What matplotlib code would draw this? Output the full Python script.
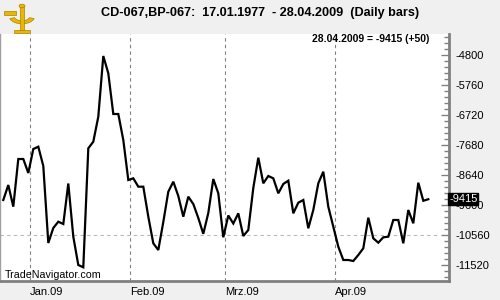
import matplotlib
matplotlib.use("Agg")
import matplotlib.pyplot as plt
from matplotlib.ticker import MultipleLocator, FuncFormatter
from matplotlib.patches import Wedge, Rectangle, Circle
import matplotlib.transforms as mtransforms

plt.rcParams['font.family'] = ['Liberation Sans', 'DejaVu Sans']
plt.rcParams['axes.unicode_minus'] = False

# Daily values, 23.12.2008 .. 28.04.2009 (trading days)
values = [
    -9440, -8960, -9654, -8128, -8128, -8576, -7808, -7734, -8352, -10816,
    -10336, -10134, -10208, -8912, -10614, -11520, -11594, -7786, -7574, -6774,
    -4832, -5386, -6688, -6688, -7520, -8800, -8746, -9014, -9014, -9974,
    -10826, -11040, -10144, -9174, -8854, -9312, -9974, -9334, -9568, -10016,
    -10522, -9856, -8768, -9226, -10634, -9936, -10192, -9866, -10592, -10400,
    -9056, -8086, -8906, -8672, -8746, -9226, -8928, -8822, -9866, -9526,
    -9440, -10346, -9760, -8906, -8534, -9654, -10294, -10934, -11360, -11360,
    -11392, -11200, -10986, -10006, -10666, -10806, -10634, -10614, -10080, -10080,
    -10826, -9760, -10186, -8886, -9465, -9415,
]
month_labels = ["Jan.09", "Feb.09", "Mrz.09", "Apr.09"]
month_start_idx = [6, 26, 45, 67]
last_date = "28.04.2009"
last_change = 50
title = "CD-067,BP-067:  17.01.1977  - 28.04.2009  (Daily bars)"

W, H = 500, 300
fig = plt.figure(figsize=(5, 3), dpi=100, facecolor="#f0f0f0")
ax = fig.add_axes([0.0, 19 / H, 449 / W, (281 - 34) / H])
ax.set_facecolor("white")

x = list(range(len(values)))
ax.plot(x, values, color="black", linewidth=1.6, solid_joinstyle="miter", zorder=3)

ax.set_xlim(-0.66, 89.14)
ax.set_ylim(-12032, -4128)

# grid lines
for idx in month_start_idx:
    ax.axvline(idx - 0.66, color="#808080", linewidth=0.8,
               linestyle=(0, (3, 3)), zorder=1)
ax.axhline(-10560, xmin=0, xmax=440 / 449, color="#b8b8b8", linewidth=0.8,
           linestyle=(0, (3, 3)), zorder=1)

# x labels (left aligned at the month line)
ax.set_xticks([])
for idx, lab in zip(month_start_idx, month_labels):
    ax.text(idx - 0.66, -0.025, lab, transform=ax.get_xaxis_transform(),
            ha="left", va="top", fontsize=8, color="black")

# y axis on the right
ax.yaxis.tick_right()
ax.yaxis.set_major_locator(MultipleLocator(960))
ax.yaxis.set_minor_locator(MultipleLocator(192))
ax.yaxis.set_major_formatter(FuncFormatter(lambda v, p: "%d" % round(v)))
ax.tick_params(axis="y", which="major", direction="in", length=6, width=1,
               color="#808080", labelsize=8, pad=5)
ax.tick_params(axis="y", which="minor", direction="in", length=3.5, width=1,
               color="#808080")
ax.tick_params(axis="y", which="both", left=False, right=True)

ax.spines["top"].set_visible(False)
ax.spines["left"].set_color("#a0a0a0")
ax.spines["left"].set_linewidth(1.0)
ax.spines["right"].set_color("#808080")
ax.spines["right"].set_linewidth(2.0)
ax.spines["bottom"].set_color("#808080")
ax.spines["bottom"].set_linewidth(2.0)

# last value box
trans = mtransforms.blended_transform_factory(ax.transAxes, ax.transData)
ax.text(1.0, values[-1], "%d" % values[-1], transform=trans, ha="left",
        va="center", fontsize=8, color="white", zorder=10,
        bbox=dict(boxstyle="square,pad=0.1", facecolor="black", edgecolor="black"),
        clip_on=False)

# header texts
fig.text(0.52, 1 - 13 / H, title, ha="center", va="center", fontsize=9.1,
         fontweight="bold", color="black")
ax.text(429 / 449, (281 - 39.5) / (281 - 34), "%s = %d (%+d)" % (last_date, values[-1], last_change),
        transform=ax.transAxes, ha="right", va="center", fontsize=7.5,
        fontweight="bold", color="black")
ax.text(5 / 449, (281 - 275) / (281 - 34), "TradeNavigator.com",
        transform=ax.transAxes, ha="left", va="center", fontsize=7.7, color="black")

# simple sextant-like logo
def px(xp, yp):
    return (xp / W, 1 - yp / H)
gold = "#e8b800"
dark = "#b08000"
fig.patches.append(Wedge(px(22, 16), 13 / W, 200, 340, width=5 / W,
                         transform=fig.transFigure, facecolor=gold, edgecolor=dark,
                         linewidth=0.5))
fig.patches.append(Rectangle(px(20, 30), 4 / W, 24 / H, transform=fig.transFigure,
                             facecolor=gold, edgecolor=dark, linewidth=0.5))
fig.patches.append(Rectangle(px(4, 15), 12 / W, 4 / H, transform=fig.transFigure,
                             facecolor=gold, edgecolor=dark, linewidth=0.5))
fig.patches.append(Circle(px(22, 6), 3 / W, transform=fig.transFigure,
                          facecolor=gold, edgecolor=dark, linewidth=0.5))
fig.patches.append(Rectangle(px(14, 33), 16 / W, 3 / H, transform=fig.transFigure,
                             facecolor=gold, edgecolor=dark, linewidth=0.5))

fig.savefig("out.png", dpi=100, facecolor=fig.get_facecolor())
